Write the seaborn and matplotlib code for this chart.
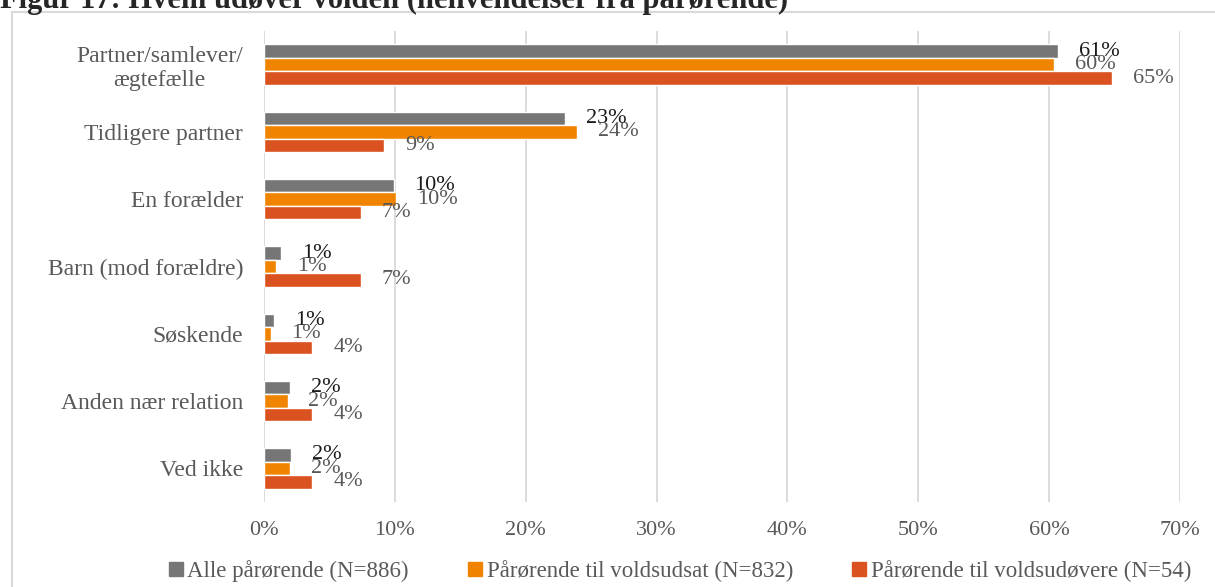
import numpy as np
import pandas as pd
import seaborn as sns
import matplotlib.pyplot as plt
from matplotlib.patches import Rectangle

# Data (shares of henvendelser)
categories = ["Partner/samlever/\nægtefælle", "Tidligere partner", "En forælder",
              "Barn (mod forældre)", "Søskende", "Anden nær relation", "Ved ikke"]
series = ["Alle pårørende (N=886)", "Pårørende til voldsudsat (N=832)",
          "Pårørende til voldsudøvere (N=54)"]
alle = [0.607, 0.230, 0.099, 0.013, 0.008, 0.020, 0.021]
udsat = [0.604, 0.239, 0.101, 0.009, 0.005, 0.018, 0.020]
udoever = [0.648, 0.092, 0.074, 0.074, 0.037, 0.037, 0.037]
labels_alle = ["61%", "23%", "10%", "1%", "1%", "2%", "2%"]
labels_udsat = ["60%", "24%", "10%", "1%", "1%", "2%", "2%"]
labels_udoever = ["65%", "9%", "7%", "7%", "4%", "4%", "4%"]
colors = ["#767676", "#F08400", "#DA521F"]

df = pd.DataFrame({
    "kategori": categories * 3,
    "serie": np.repeat(series, len(categories)),
    "andel": alle + udsat + udoever,
})

sns.set_style("white")
plt.rcParams["font.family"] = ["Liberation Serif", "DejaVu Serif"]

fig = plt.figure(figsize=(12.15, 5.87), dpi=100)
ax = fig.add_axes([264 / 1215, 1 - 502 / 587, (1180 - 264) / 1215, (502 - 31) / 587])

sns.barplot(data=df, y="kategori", x="andel", hue="serie", orient="h",
            palette=colors, width=0.6, saturation=1, ax=ax, legend=False)

ax.set_xlim(0, 0.7)
ax.set_ylim(6.5, -0.5)
ticks = np.arange(0, 0.71, 0.1)
ax.set_xticks(ticks)
ax.set_xticklabels([f"{int(round(t * 100))}%" for t in ticks])
ax.xaxis.grid(True, color="#D9D9D9", linewidth=1.3)
ax.set_axisbelow(True)
for s in ax.spines.values():
    s.set_visible(False)
ax.tick_params(axis="x", length=0, labelsize=16, labelcolor="#595959", pad=14)
ax.tick_params(axis="y", length=0, labelsize=17, labelcolor="#595959", pad=15)
for t in ax.get_yticklabels():
    t.set_multialignment("center")
ax.set_xlabel("")
ax.set_ylabel("")

label_sets = [labels_alle, labels_udsat, labels_udoever]
label_cols = ["#1a1a1a", "#595959", "#595959"]
for cont, labs, c in zip(ax.containers, label_sets, label_cols):
    ax.bar_label(cont, labels=labs, padding=15, fontsize=16, color=c)

handles = [Rectangle((0, 0), 1, 1, color=c) for c in colors]
fig.legend(handles, series, loc="center", ncol=3, frameon=False,
           bbox_to_anchor=(680 / 1215, 1 - 571 / 587), fontsize=16.5,
           handlelength=0.6, handleheight=0.6, handletextpad=0.2,
           columnspacing=2.6, labelcolor="#595959")

# clipped title and outer frame as in the source document
fig.text(0.0, 1 - 8 / 587, "Figur 17: Hvem udøver volden (henvendelser fra pårørende)",
         fontsize=22, fontweight="bold", va="baseline", ha="left")
fig.patches.append(Rectangle((12 / 1215, -0.1), 1.2, 1.1 - 12 / 587,
                             transform=fig.transFigure, fill=False,
                             edgecolor="#D9D9D9", linewidth=1.5))

fig.savefig("out.png", dpi=100)
